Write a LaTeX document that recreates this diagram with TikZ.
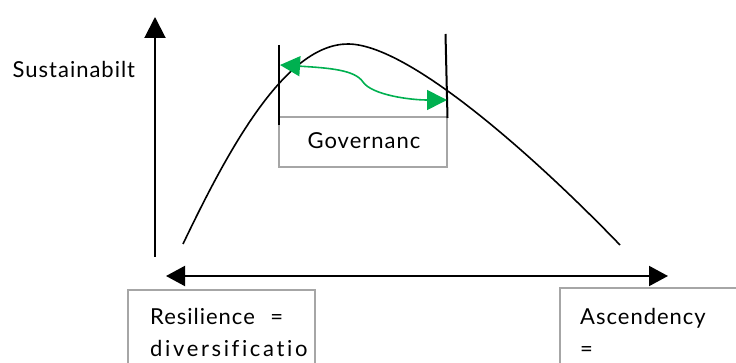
\documentclass[tikz,border=0pt]{standalone}
\usepackage{fontspec}
\setmainfont{Lato}[Ligatures=CommonOff, LetterSpace=4.5]
\newfontfamily\widefont{Lato}[Ligatures=CommonOff, LetterSpace=12]
\usetikzlibrary{arrows.meta}
\definecolor{boxgray}{HTML}{A6A6A6}
\definecolor{arrgreen}{HTML}{00B050}
\tikzset{
  lbl/.style={inner sep=0pt, font=\fontsize{22}{26}\selectfont},
  graybox/.style={draw=boxgray, line width=1.6pt},
  axis/.style={line width=2pt, black},
  bar/.style={line width=2pt, black},
  curve/.style={line width=1.6pt, black},
  garrow/.style={line width=1.6pt, arrgreen, {Triangle[length=20pt,width=20pt]}-{Triangle[length=20pt,width=20pt]}}
}
\begin{document}
\begin{tikzpicture}[x=1pt,y=-1pt]
\useasboundingbox (0,0) rectangle (736,363);
\begin{scope}
\clip (0,0) rectangle (736,363);
% coordinates
\coordinate (vbot) at (155,257);
\coordinate (vtop) at (155,17);
\coordinate (hl) at (166,276);
\coordinate (hr) at (668,276);
\coordinate (cstart) at (183,244);
\coordinate (cpeak) at (348,44);
\coordinate (cend) at (620,245);
\coordinate (b1t) at (279,45);
\coordinate (b1b) at (279,125);
\coordinate (b2t) at (445.5,34);
\coordinate (b2b) at (447.5,118);
\coordinate (gl) at (280,65);
\coordinate (gm) at (363,82);
\coordinate (gr) at (447,100);
% boxes
\draw[graybox] (279,117) rectangle (447,167);
\draw[graybox] (128,290) rectangle (315,380);
\draw[graybox] (560,288) rectangle (760,380);
% axes
\draw[axis, -{Triangle[length=21pt,width=21pt]}] (vbot) -- (vtop);
\draw[axis, {Triangle[length=19pt,width=20pt]}-{Triangle[length=19pt,width=20pt]}] (hl) -- (hr);
% curve
\draw[curve] (cstart) .. controls (228,150) and (285,44) .. (cpeak)
  .. controls (410,44) and (540,162) .. (cend);
% bars
\draw[bar] (b1t) -- (b1b);
\draw[bar] (b2t) -- (b2b);
% green arrow
\draw[garrow] (gl) .. controls (330,68) and (355,70) .. (gm)
  .. controls (372,95) and (410,100) .. (gr);
% labels
\node[lbl, anchor=base west] (sust) at (12.5,78) {Sustainabilt};
\node[lbl, anchor=base] (gov) at (364,149) {Governanc};
\node[lbl, anchor=base west] (res1) at (150,324) {\makebox[133pt][s]{Resilience\hfill=}};
\node[lbl, anchor=base west] (res2) at (150,356) {\widefont diversificatio};
\node[lbl, anchor=base west] (asc1) at (580,324) {Ascendency};
\node[lbl, anchor=base west] (asc2) at (580,356) {=};
\end{scope}
\end{tikzpicture}
\end{document}
